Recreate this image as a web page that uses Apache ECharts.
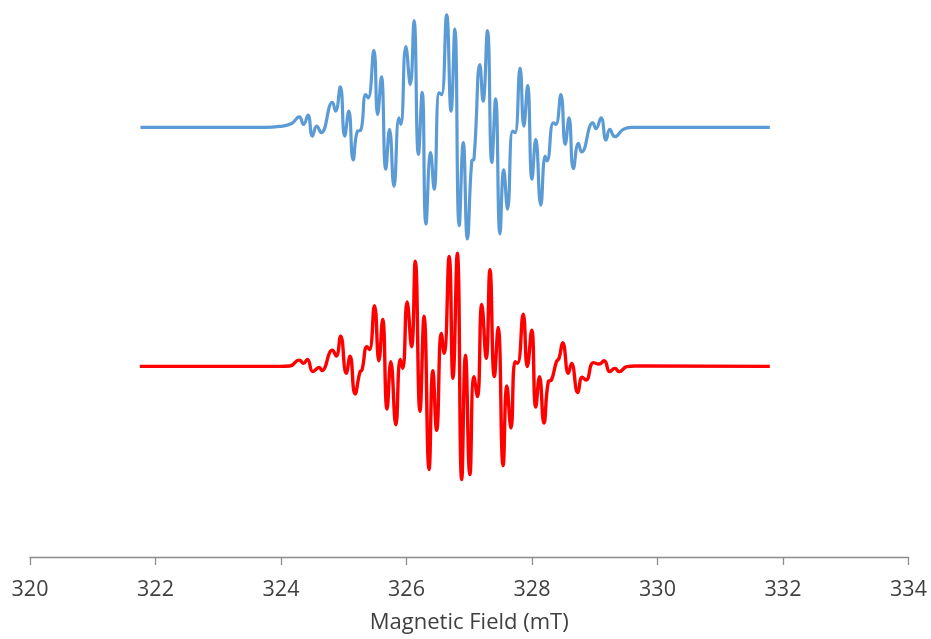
<!DOCTYPE html>
<html>
<head>
<meta charset="utf-8">
<script src="https://cdn.jsdelivr.net/npm/echarts@6/dist/echarts.min.js"></script>
<style>
html,body{margin:0;padding:0;background:#fff;}
#chart{width:931px;height:639px;}
</style>
</head>
<body>
<div id="chart"></div>
<script>
// Field values (mT) and intensities (arbitrary units)
const simField = [321.76,323.745,323.98,324.17,324.29,324.36,324.43,324.50,324.57,324.64,324.82,324.87,324.945,325.015,325.08,325.15,325.22,325.27,325.35,325.39,325.48,325.54,325.60,325.67,325.73,325.80,325.88,325.91,325.99,326.06,326.12,326.19,326.25,326.31,326.385,326.44,326.52,326.56,326.64,326.71,326.77,326.84,326.905,326.97,327.04,327.075,327.17,327.22,327.29,327.36,327.42,327.49,327.55,327.61,327.69,327.73,327.81,327.87,327.93,328.00,328.06,328.14,328.21,328.24,328.34,328.38,328.46,328.53,328.59,328.66,328.74,328.79,328.97,329.02,329.10,329.18,329.24,329.32,329.455,329.59,329.80,331.79];
const simIntensity = [0,0,1,4,10.7,3,12.3,-8.7,1.3,-5.3,25.3,16.3,40.7,-8.7,16.3,-32.7,-3.7,-3,33,29.7,77.3,13,50.7,-42,-2,-59.3,9.7,3,81.3,43,107.3,-27,35.3,-97,-25.3,-62,34.7,33,113,16.3,98.7,-98.7,-15.3,-112,-33.7,-32,63,26.3,97.3,-35.3,28.7,-107,-42.7,-82,-3.7,-5.3,59.7,1.3,42,-52,-12,-78,-28.7,-33.7,4.7,3,33,-17,9.7,-41.3,-16,-24.7,4.7,-1.3,9.7,-12.7,-2,-9.3,-2,0,0,0];

const expField = [321.75,323.98,324.14,324.29,324.36,324.42,324.51,324.61,324.65,324.82,324.88,324.95,325.04,325.10,325.18,325.26,325.29,325.37,325.41,325.49,325.56,325.62,325.69,325.75,325.83,325.90,325.94,326.01,326.08,326.14,326.215,326.28,326.36,326.42,326.48,326.555,326.60,326.68,326.74,326.81,326.88,326.94,327.01,327.075,327.13,327.20,327.27,327.33,327.40,327.46,327.54,327.60,327.665,327.73,327.77,327.86,327.925,327.995,328.06,328.12,328.19,328.26,328.31,328.39,328.43,328.49,328.58,328.63,328.73,328.80,328.86,328.98,329.07,329.15,329.24,329.32,329.39,329.51,329.64,329.80,331.79];
const expIntensity = [0,0,0.3,6.3,3,7,-5.3,-1,-4.3,16.3,10.3,30.3,-7,10.3,-27.7,-5.3,-3.7,19.7,17,61,5.7,47,-43,4.7,-58.7,7,-2,64.7,19.7,105.7,-45.3,50.3,-103.7,-4.3,-64.3,33,13,110.3,-12,113.7,-113.7,11.3,-108.7,-10.3,-30.3,62.3,8,97,-10.3,39,-99.7,-19.7,-62,4.7,3,52.3,-0.3,36.3,-41,-10.3,-57,-15.3,-13.7,4.7,8,23.7,-7,3,-26.3,-11,-13.7,3.7,2.3,5.7,-5.3,-2,-5.3,-0.3,0.3,0.3,0];

const xTicks = [320,322,324,326,328,330,332,334];
const xTitle = 'Magnetic Field (mT)';

const zip = (a, b) => a.map((v, i) => [v, b[i]]);

const chart = echarts.init(document.getElementById('chart'), null, {renderer: 'canvas'});
const font = 'Open Sans, Liberation Sans, sans-serif';
chart.setOption({
  animation: false,
  backgroundColor: '#ffffff',
  grid: {left: 30, right: 22.5, top: 0, bottom: 79.5, containLabel: false},
  xAxis: {
    type: 'value',
    min: xTicks[0],
    max: xTicks[xTicks.length - 1],
    interval: 2,
    name: xTitle,
    nameLocation: 'middle',
    nameGap: 55,
    nameTextStyle: {fontSize: 22, color: '#404040', fontFamily: font},
    axisLine: {show: true, onZero: false, lineStyle: {color: '#8c8c8c', width: 1.3}},
    axisTick: {show: true, inside: false, length: 8, lineStyle: {color: '#8c8c8c', width: 1.3}},
    axisLabel: {fontSize: 21.5, color: '#404040', fontFamily: font, margin: 22},
    splitLine: {show: false}
  },
  yAxis: [
    {type: 'value', min: -431.5, max: 128, show: false, splitLine: {show: false}},
    {type: 'value', min: -191.5, max: 368, show: false, splitLine: {show: false}}
  ],
  series: [
    {
      type: 'line', yAxisIndex: 0, data: zip(simField, simIntensity),
      showSymbol: false, smooth: 0.5,
      lineStyle: {color: '#5B9BD5', width: 3.2}
    },
    {
      type: 'line', yAxisIndex: 1, data: zip(expField, expIntensity),
      showSymbol: false, smooth: 0.5,
      lineStyle: {color: '#FF0000', width: 3.4}
    }
  ]
});
</script>
</body>
</html>
